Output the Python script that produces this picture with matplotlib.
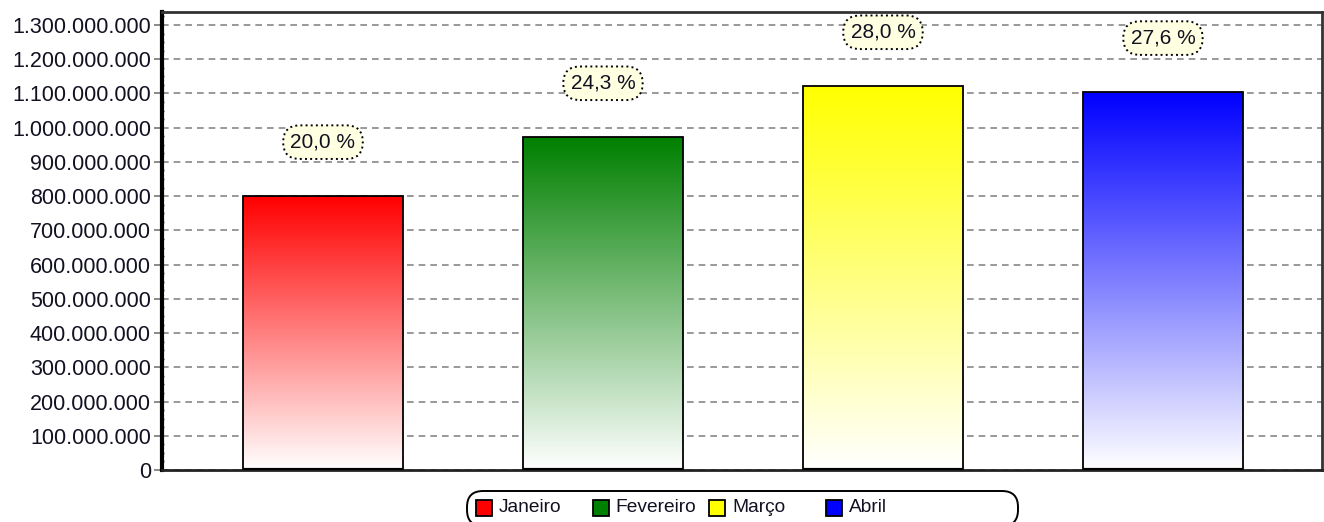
import numpy as np
import matplotlib
matplotlib.use("Agg")
import matplotlib.pyplot as plt
from matplotlib.ticker import MultipleLocator, FuncFormatter
from matplotlib.colors import to_rgb
from matplotlib.patches import Rectangle, FancyBboxPatch
from matplotlib.transforms import IdentityTransform

# ---- data ----
months = ["Janeiro", "Fevereiro", "Março", "Abril"]
values = [800_000_000, 972_000_000, 1_121_000_000, 1_104_000_000]
percent_labels = ["20,0 %", "24,3 %", "28,0 %", "27,6 %"]
colors = ["#FF0000", "#008000", "#FFFF00", "#0000FF"]

plt.rcParams['font.family'] = ['Liberation Sans', 'DejaVu Sans']

W, H = 1324, 522
fig = plt.figure(figsize=(W / 100, H / 100), dpi=100)
ax = fig.add_axes([162 / W, 1 - 470 / H, (1322 - 162) / W, (470 - 12) / H])

def fx(px):
    return px / W

def fy(py):
    return 1 - py / H

x = np.arange(len(months))
width = 0.571
bars = ax.bar(x, values, width=width, color='none', edgecolor='black', linewidth=1.3, zorder=3)

# gradient fills
for rect, c in zip(bars, colors):
    rgb = np.array(to_rgb(c))
    t = np.linspace(0, 1, 256)[:, None]  # 0 bottom -> 1 top
    grad = (1 - t) * np.ones(3) + t * rgb
    img = grad[:, None, :]
    x0, y0 = rect.get_x(), rect.get_y()
    w, h = rect.get_width(), rect.get_height()
    im = ax.imshow(img, extent=[x0, x0 + w, y0, y0 + h], origin='lower',
                   aspect='auto', zorder=2, interpolation='bilinear')
    im.set_clip_path(rect)
    ax.plot([x0, x0 + w], [0, 0], color='black', lw=3, zorder=4, solid_capstyle='butt')

ax.set_xlim(-0.575, 3.568)
ax.set_ylim(0, 1.338e9)

# percent labels
for xi, v, lab in zip(x, values, percent_labels):
    ax.annotate(lab, xy=(xi, v), xytext=(0, 54), textcoords='offset pixels',
                ha='center', va='center', fontsize=15, color='#111122', zorder=5,
                bbox=dict(boxstyle='round,pad=0.35,rounding_size=0.8', facecolor='#FFFFE1',
                          edgecolor='black', linestyle=':', linewidth=1.4))

# grid and ticks
ax.yaxis.set_major_locator(MultipleLocator(100_000_000))
ax.yaxis.set_minor_locator(MultipleLocator(25_000_000))
ax.yaxis.set_major_formatter(FuncFormatter(lambda v, p: f"{v:,.0f}".replace(',', '.')))
ax.grid(axis='y', which='major', linestyle=(0, (4, 3)), color='#888888', linewidth=1.2, zorder=1)
ax.set_axisbelow(True)
ax.tick_params(axis='y', which='major', length=6, width=1.2, color='#777777',
               labelsize=15.5, labelcolor='#111122', pad=2)
ax.tick_params(axis='y', which='minor', length=3, width=1, color='#444444', direction='inout')
ax.set_xticks([])

ax.spines['left'].set_linewidth(3)
ax.spines['left'].set_color('black')
ax.spines['bottom'].set_linewidth(2)
ax.spines['bottom'].set_color('#222222')
ax.spines['top'].set_linewidth(2)
ax.spines['top'].set_color('#333333')
ax.spines['right'].set_linewidth(2)
ax.spines['right'].set_color('#333333')

# legend (fixed-pitch columns, as in the reference), drawn in pixel space
box = FancyBboxPatch((467, H - 526), 1018 - 467, 526 - 491,
                     boxstyle='round,pad=0,rounding_size=16',
                     transform=IdentityTransform(), facecolor='white', edgecolor='black',
                     linewidth=1.4)
fig.patches.append(box)
pitch = 116.7
for i, (name, c) in enumerate(zip(months, colors)):
    hx = 476 + i * pitch
    sq = Rectangle((fx(hx), fy(516)), fx(16), fy(500) - fy(516), transform=fig.transFigure,
                   facecolor=c, edgecolor='black', linewidth=1.3)
    fig.patches.append(sq)
    fig.text(fx(hx + 23), fy(508), name, ha='left', va='center', fontsize=13.8, color='#111122')

fig.savefig('out.png', dpi=100)
